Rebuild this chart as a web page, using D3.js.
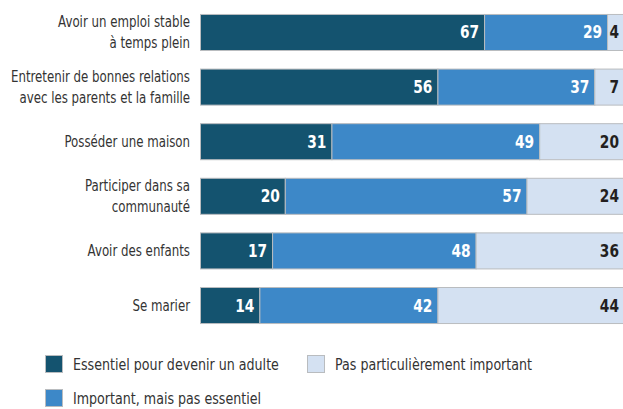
<!DOCTYPE html>
<html>
<head>
<meta charset="utf-8">
<script src="https://cdn.jsdelivr.net/npm/d3@7/dist/d3.min.js"></script>
<style>
  body { margin: 0; background: #fff; }
  svg { font-family: "DejaVu Sans", sans-serif; font-stretch: condensed; }
</style>
</head>
<body>
<div id="chart"></div>
<script>
/** Data */
const categories = [
  ["Avoir un emploi stable", "à temps plein"],
  ["Entretenir de bonnes relations", "avec les parents et la famille"],
  ["Posséder une maison"],
  ["Participer dans sa", "communauté"],
  ["Avoir des enfants"],
  ["Se marier"],
];
const essentiel = [67, 56, 31, 20, 17, 14];
const important = [29, 37, 49, 57, 48, 42];
const pasImportant = [4, 7, 20, 24, 36, 44];
const seriesNames = [
  "Essentiel pour devenir un adulte",
  "Important, mais pas essentiel",
  "Pas particulièrement important",
];
const colors = ["#14536f", "#3d88c8", "#d4e1f2"];
const labelColors = ["#ffffff", "#ffffff", "#231f20"];

/** Graph configs */
const width = 623;
const height = 409;
// narrow the glyphs so they look like a condensed face
const squeezeCat = 0.82;
const squeezeLegend = 0.88;
const squeezeValue = 0.85;

const svg = d3
  .select("#chart")
  .append("svg")
  .attr("width", width)
  .attr("height", height);

const x = d3.scaleLinear().domain([0, 100]).range([200, 624]);
const y = d3
  .scaleBand()
  .domain(d3.range(categories.length))
  .range([-4.6, 341.6])
  .padding(0.34);

const seriesValues = [essentiel, important, pasImportant];
const rows = categories.map((c, i) => {
  let acc = 0;
  return seriesValues.map((vals, s) => {
    const seg = { row: i, s, v: vals[i], x0: acc, x1: acc + vals[i] };
    acc += vals[i];
    return seg;
  });
});

/** Bars */
const rowG = svg
  .selectAll("g.row")
  .data(rows)
  .enter()
  .append("g")
  .attr("class", "row");

rowG
  .selectAll("rect")
  .data((d) => d)
  .enter()
  .append("rect")
  .attr("x", (d) => x(d.x0) + 0.5)
  .attr("y", (d) => y(d.row) + 0.5)
  .attr("width", (d) => x(d.x1) - x(d.x0))
  .attr("height", y.bandwidth())
  .attr("fill", (d) => colors[d.s])
  .attr("stroke", "#b9bcbf")
  .attr("stroke-width", 1);

rowG
  .selectAll("text")
  .data((d) => d)
  .enter()
  .append("text")
  .attr("transform", (d) => {
    const tx = Math.min(x(d.x1), 624) - 5;
    const ty = y(d.row) + y.bandwidth() / 2 + 6.5;
    return `translate(${tx}, ${ty}) scale(${squeezeValue}, 1)`;
  })
  .attr("text-anchor", "end")
  .attr("font-size", 18)
  .attr("font-weight", "bold")
  .attr("fill", (d) => labelColors[d.s])
  .text((d) => d.v);

/** Category labels */
const lineH = 21;
svg
  .selectAll("text.cat")
  .data(categories)
  .enter()
  .append("text")
  .attr("class", "cat")
  .attr("text-anchor", "end")
  .attr("font-size", 16)
  .attr("fill", "#333")
  .attr("transform", `translate(190, 0) scale(${squeezeCat}, 1)`)
  .each(function (lines, i) {
    const cy = y(i) + y.bandwidth() / 2;
    const startY = cy - ((lines.length - 1) * lineH) / 2 + 5.5;
    d3.select(this)
      .selectAll("tspan")
      .data(lines)
      .enter()
      .append("tspan")
      .attr("x", 0)
      .attr("y", (_, j) => startY + j * lineH)
      .text((t) => t);
  });

/** Legend */
const legendPos = [
  [45, 355],
  [45, 389],
  [307, 355],
];
const legend = svg
  .selectAll("g.legend")
  .data(seriesNames)
  .enter()
  .append("g")
  .attr("class", "legend")
  .attr("transform", (_, i) => `translate(${legendPos[i][0]}, ${legendPos[i][1]})`);

legend
  .append("rect")
  .attr("x", 0.5)
  .attr("y", 0.5)
  .attr("width", 17)
  .attr("height", 17)
  .attr("fill", (_, i) => colors[i])
  .attr("stroke", "#b9bcbf");

legend
  .append("text")
  .attr("transform", `translate(28, 14.5) scale(${squeezeLegend}, 1)`)
  .attr("font-size", 16)
  .attr("fill", "#333")
  .text((d) => d);
</script>
</body>
</html>
